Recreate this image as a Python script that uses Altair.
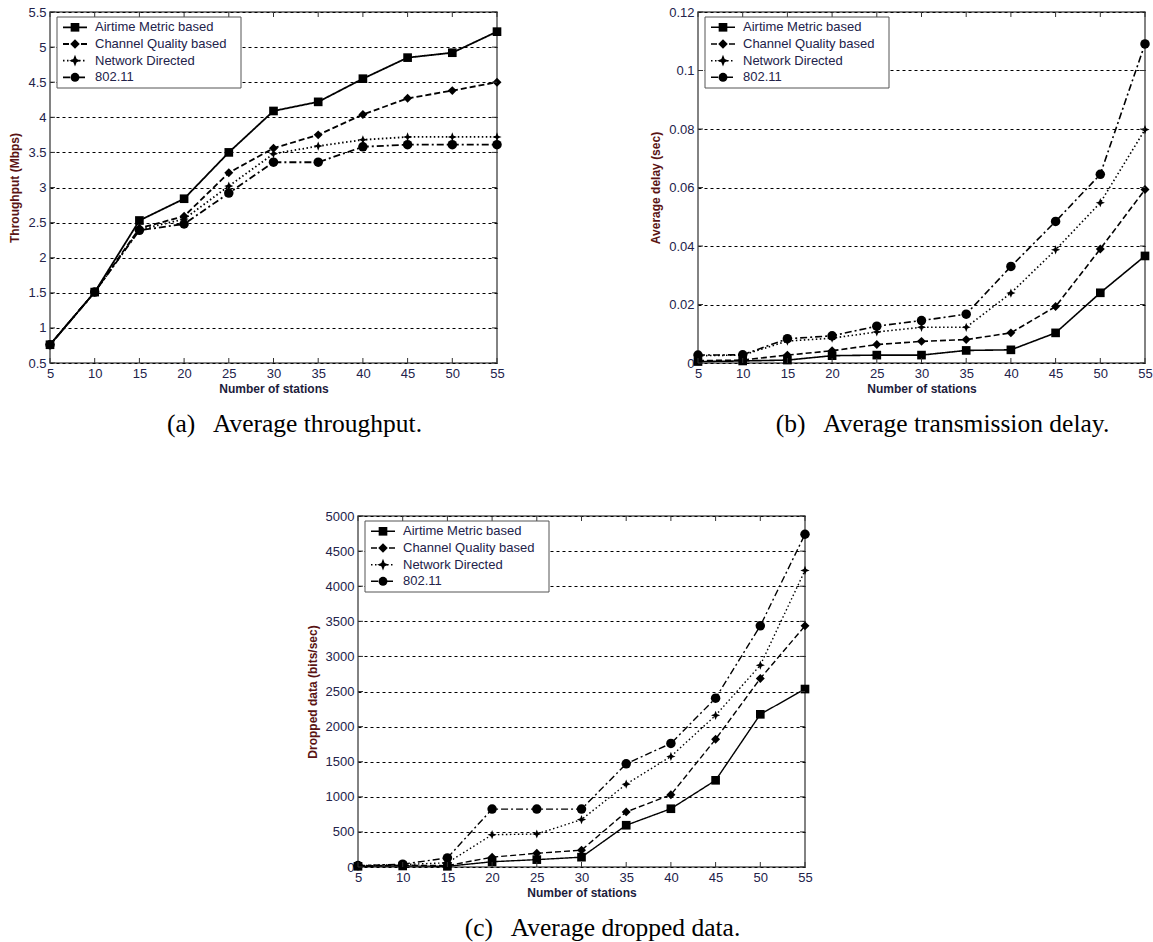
import altair as alt
import pandas as pd

# Shared x values and series
stations = [5, 10, 15, 20, 25, 30, 35, 40, 45, 50, 55]
series_names = ["Airtime Metric based", "Channel Quality based", "Network Directed", "802.11"]

# (a) Average throughput (Mbps)
thr_airtime = [0.76, 1.51, 2.53, 2.84, 3.50, 4.09, 4.22, 4.55, 4.85, 4.92, 5.22]
thr_channel = [0.76, 1.51, 2.42, 2.59, 3.21, 3.56, 3.75, 4.04, 4.27, 4.38, 4.50]
thr_network = [0.76, 1.51, 2.40, 2.55, 3.02, 3.48, 3.59, 3.68, 3.72, 3.72, 3.72]
thr_80211 = [0.76, 1.51, 2.39, 2.48, 2.92, 3.36, 3.36, 3.58, 3.61, 3.61, 3.61]
thr_ticks = [0.5, 1, 1.5, 2, 2.5, 3, 3.5, 4, 4.5, 5, 5.5]

# (b) Average transmission delay (sec)
delay_airtime = [0.0005, 0.0007, 0.0010, 0.0025, 0.0027, 0.0027, 0.0043, 0.0045, 0.0103, 0.0240, 0.0366]
delay_channel = [0.0008, 0.0010, 0.0027, 0.0042, 0.0063, 0.0074, 0.0080, 0.0103, 0.0193, 0.0390, 0.0593]
delay_network = [0.0025, 0.0027, 0.0075, 0.0085, 0.0106, 0.0122, 0.0122, 0.0239, 0.0387, 0.0548, 0.0798]
delay_80211 = [0.0027, 0.0028, 0.0083, 0.0093, 0.0126, 0.0145, 0.0167, 0.0330, 0.0484, 0.0645, 0.1091]
delay_ticks = [0, 0.02, 0.04, 0.06, 0.08, 0.1, 0.12]

# (c) Average dropped data (bits/sec)
drop_airtime = [10, 15, 10, 75, 105, 140, 595, 830, 1235, 2175, 2535]
drop_channel = [15, 25, 20, 140, 195, 240, 785, 1030, 1820, 2685, 3435]
drop_network = [20, 35, 60, 460, 470, 675, 1180, 1575, 2160, 2875, 4225]
drop_80211 = [20, 40, 130, 825, 825, 825, 1470, 1760, 2405, 3435, 4740]
drop_ticks = [0, 500, 1000, 1500, 2000, 2500, 3000, 3500, 4000, 4500, 5000]

W, H = 447, 351
DASHES = [[1, 0], [6, 3], [1.5, 2.5], [7, 3, 2, 3]]
STAR = "M0,-1L0.28,-0.28L1,0L0.28,0.28L0,1L-0.28,0.28L-1,0L-0.28,-0.28Z"
SHAPES = ["square", "diamond", STAR, "circle"]
SIZES = [75, 90, 140, 80]
LEGEND_ROWS = [15.3, 32, 48.7, 65.3]
TEXT_COLOR = "#22224a"
NUM_FORMAT = ".3~r"


def panel(series_values, y_ticks, y_title, caption, line_width):
    rows = []
    for name, vals in zip(series_names, series_values):
        for s, v in zip(stations, vals):
            rows.append({"series": name, "stations": s, "value": v})
    df = pd.DataFrame(rows)

    x = alt.X(
        "stations:Q",
        scale=alt.Scale(domain=[stations[0], stations[-1]], nice=False, zero=False),
        axis=alt.Axis(values=stations, format=NUM_FORMAT, title="Number of stations",
                      grid=False, domain=False, ticks=False, labelFlush=False,
                      labelOverlap=False, labelPadding=4, titlePadding=3),
    )
    y = alt.Y(
        "value:Q",
        scale=alt.Scale(domain=[y_ticks[0], y_ticks[-1]], nice=False, zero=False),
        axis=alt.Axis(values=y_ticks, format=NUM_FORMAT, title=y_title, grid=True,
                      gridDash=[3, 3], gridColor="black", gridOpacity=1, gridWidth=1,
                      domain=False, ticks=False, labelFlush=False, labelOverlap=False,
                      labelPadding=4, titlePadding=6, titleColor="#5a1414"),
    )

    lines = alt.Chart(df).mark_line(color="black", strokeWidth=line_width).encode(
        x=x, y=y,
        strokeDash=alt.StrokeDash("series:N", scale=alt.Scale(domain=series_names, range=DASHES), legend=None),
    )
    points = alt.Chart(df).mark_point(filled=True, color="black", opacity=1).encode(
        x=x, y=y,
        shape=alt.Shape("series:N", scale=alt.Scale(domain=series_names, range=SHAPES), legend=None),
        size=alt.Size("series:N", scale=alt.Scale(domain=series_names, range=SIZES), legend=None),
    )

    # inward tick marks on all four sides of the frame
    xt = pd.DataFrame({"stations": stations})
    yt = pd.DataFrame({"value": y_ticks})
    tick = dict(color="#333333", strokeWidth=1)
    t_bottom = alt.Chart(xt).mark_rule(**tick).encode(x=x, y=alt.value(H), y2=alt.value(H - 5))
    t_top = alt.Chart(xt).mark_rule(**tick).encode(x=x, y=alt.value(0), y2=alt.value(5))
    t_left = alt.Chart(yt).mark_rule(**tick).encode(y=y, x=alt.value(0), x2=alt.value(5))
    t_right = alt.Chart(yt).mark_rule(**tick).encode(y=y, x=alt.value(W), x2=alt.value(W - 5))

    # legend box in the upper-left corner
    box = alt.Chart(pd.DataFrame({"k": [0]})).mark_rect(
        fill="white", stroke="#555555", strokeWidth=1
    ).encode(x=alt.value(7), x2=alt.value(191), y=alt.value(5), y2=alt.value(76))
    legend_layers = [box]
    for i, name in enumerate(series_names):
        d = pd.DataFrame({"series": [name]})
        ry = LEGEND_ROWS[i]
        legend_layers.append(
            alt.Chart(d).mark_rule(color="black", strokeWidth=line_width, strokeDash=DASHES[i])
            .encode(x=alt.value(13), x2=alt.value(37), y=alt.value(ry))
        )
        legend_layers.append(
            alt.Chart(d).mark_point(shape=SHAPES[i], size=SIZES[i], filled=True, color="black", opacity=1)
            .encode(x=alt.value(25), y=alt.value(ry))
        )
        legend_layers.append(
            alt.Chart(d).mark_text(align="left", baseline="middle", font="Liberation Sans",
                                   fontSize=13, color=TEXT_COLOR)
            .encode(x=alt.value(45), y=alt.value(ry), text="series:N")
        )

    return alt.layer(lines, points, t_bottom, t_top, t_left, t_right, *legend_layers).resolve_scale(
        x="shared", y="shared"
    ).properties(
        width=W, height=H,
        view=alt.ViewBackground(stroke="#5a5a5a", strokeWidth=1.5),
        title=alt.TitleParams(text=caption, orient="bottom", anchor="middle", frame="group",
                              dx=21, offset=18, font="Liberation Serif", fontSize=25.5,
                              fontWeight="normal", color="black"),
    )


pa = panel([thr_airtime, thr_channel, thr_network, thr_80211], thr_ticks,
           "Throughput (Mbps)", "(a)\u00a0\u00a0 Average throughput.", 1.8)
pb = panel([delay_airtime, delay_channel, delay_network, delay_80211], delay_ticks,
           "Average delay (sec)", "(b)\u00a0\u00a0 Average transmission delay.", 1.6)
pc = panel([drop_airtime, drop_channel, drop_network, drop_80211], drop_ticks,
           "Dropped data (bits/sec)", "(c)\u00a0\u00a0 Average dropped data.", 1.4)

spacer = alt.Chart(pd.DataFrame({"k": [0]})).mark_point(opacity=0, size=0).encode(
    x=alt.value(0), y=alt.value(0)
).properties(width=308, height=H, view=alt.ViewBackground(stroke="transparent"))

top_row = alt.hconcat(pa, pb, spacing=201, bounds="flush").resolve_scale(x="independent", y="independent")
bottom_row = alt.hconcat(spacer, pc, spacing=0, bounds="flush")

chart = alt.vconcat(top_row, bottom_row, spacing=70).resolve_scale(
    x="independent", y="independent"
).properties(
    padding={"left": 8, "top": 5, "right": 0, "bottom": 0},
    background="white",
).configure_axis(
    labelFont="Liberation Sans", labelFontSize=13, labelColor=TEXT_COLOR,
    titleFont="Liberation Sans", titleFontSize=12, titleFontWeight="bold", titleColor="#1c1c3c",
).configure_view(strokeWidth=0)

chart.save("out.html", embed_options={"renderer": "svg", "actions": False})
